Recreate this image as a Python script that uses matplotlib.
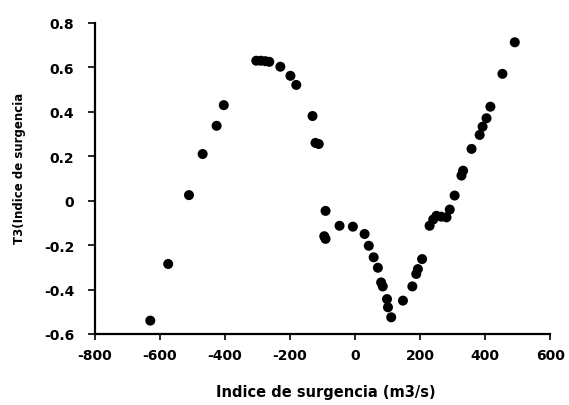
import matplotlib
matplotlib.use("Agg")
import matplotlib.pyplot as plt

# Upwelling index (m3/s) vs T3 component
indice = [-630, -575, -511, -469, -426, -404,
          -304, -290, -276, -264, -230, -199, -181,
          -131, -122, -112, -91, -95, -91, -48, -7,
          29, 42, 57, 70, 80, 85, 98, 101, 111,
          147, 176, 188, 193, 206,
          229, 240, 250, 265, 281, 291, 306, 327, 332,
          358, 383, 392, 404, 416, 453, 491]
t3 = [-0.54, -0.285, 0.025, 0.21, 0.337, 0.43,
      0.63, 0.63, 0.628, 0.625, 0.603, 0.562, 0.521,
      0.381, 0.26, 0.255, -0.046, -0.16, -0.172, -0.113, -0.117,
      -0.15, -0.203, -0.255, -0.302, -0.368, -0.386, -0.443, -0.48, -0.525,
      -0.45, -0.386, -0.33, -0.308, -0.263,
      -0.113, -0.085, -0.068, -0.072, -0.075, -0.04, 0.023, 0.113, 0.135,
      0.233, 0.296, 0.333, 0.371, 0.423, 0.571, 0.713]

x_ticks = [-800, -600, -400, -200, 0, 200, 400, 600]
y_ticks = [-0.6, -0.4, -0.2, 0, 0.2, 0.4, 0.6, 0.8]
y_tick_labels = ["-0.6", "-0.4", "-0.2", "0", "0.2", "0.4", "0.6", "0.8"]

fig = plt.figure(figsize=(5.69, 4.06), dpi=100)
ax = fig.add_axes([0.167, 0.175, 0.80, 0.766])

ax.scatter(indice, t3, s=52, color="black", edgecolors="none", zorder=3)

ax.set_xlim(-800, 600)
ax.set_ylim(-0.6, 0.8)
ax.set_xticks(x_ticks)
ax.set_xticklabels([str(v) for v in x_ticks])
ax.set_yticks(y_ticks)
ax.set_yticklabels(y_tick_labels)

for side in ("top", "right"):
    ax.spines[side].set_visible(False)
for side in ("left", "bottom"):
    ax.spines[side].set_linewidth(1.6)
    ax.spines[side].set_color("black")

ax.tick_params(axis="both", direction="out", length=4, width=1.2, colors="black",
               labelsize=10)
ax.tick_params(axis="y", length=5, pad=10)
ax.tick_params(axis="x", pad=6)
for lbl in ax.get_xticklabels() + ax.get_yticklabels():
    lbl.set_fontfamily("DejaVu Sans")
    lbl.set_fontweight("bold")

ax.set_xlabel("Indice de surgencia (m3/s)", fontsize=10.5, fontweight="bold",
              family="DejaVu Sans")
ax.xaxis.label.set_va("center")
ax.xaxis.set_label_coords(0.508, -0.186)

ax.set_ylabel("T3(Indice de surgencia", fontsize=8.5, fontweight="bold",
              family="DejaVu Sans")
ax.yaxis.label.set_va("center")
ax.yaxis.set_label_coords(-0.165, 0.537)

fig.savefig("out.png", dpi=100, facecolor="white")
